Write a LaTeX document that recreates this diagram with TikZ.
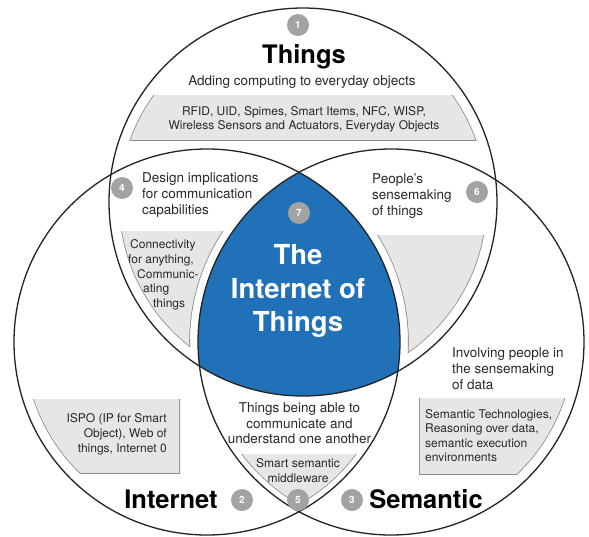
\documentclass[tikz,border=0pt]{standalone}
\usepackage{fontspec}
\setmainfont{TeX Gyre Heros}
\definecolor{iotblue}{RGB}{33,113,185}
\definecolor{badgec}{RGB}{163,163,163}
\definecolor{boxfill}{RGB}{230,230,230}
\definecolor{boxline}{RGB}{140,140,140}
\definecolor{txtc}{RGB}{40,40,40}
\definecolor{ringc}{RGB}{35,35,35}
\begin{document}
\begin{tikzpicture}[x=1pt,y=-1pt,
  ring/.style={draw=ringc,line width=1.3pt},
  txt/.style={font=\fontsize{13.5}{16}\selectfont,text=txtc,inner sep=0pt},
  smalltxt/.style={font=\fontsize{12}{14}\selectfont,text=txtc,inner sep=0pt},
  bigtitle/.style={font=\fontsize{25.5}{28}\selectfont\bfseries,text=black,inner sep=0pt},
  iottxt/.style={font=\fontsize{27.5}{30}\selectfont\bfseries,text=white,inner sep=0pt},
  badge/.style={circle,fill=badgec,text=white,minimum size=22pt,inner sep=0pt,font=\fontsize{10}{10}\selectfont\bfseries}]
\useasboundingbox (0,0) rectangle (589,536);
\fill[white] (0,0) rectangle (589,536);
\coordinate (T) at (303,202);
\coordinate (L) at (207,342);
\coordinate (R) at (391,342);
% blue centre
\begin{scope}
  \clip (T) circle (194);
  \clip (L) circle (193);
  \fill[iotblue] (R) circle (193);
\end{scope}
% Things box
\begin{scope}
  \clip (0,95) rectangle (600,140);
  \clip (T) circle (184);
  \fill[boxline] (0,0) rectangle (589,536);
  \clip (0,95.8) rectangle (600,139.2);
  \clip (T) circle (183.2);
  \fill[boxfill] (0,0) rectangle (589,536);
\end{scope}
% region 4 box
\begin{scope}[even odd rule]
  \clip (0,231) rectangle (300,420);
  \clip (T) circle (184);
  \clip (-20,-20) rectangle (620,560) (R) circle (201);
  \fill[boxline] (0,0) rectangle (589,536);
  \clip (0,231.8) rectangle (300,420);
  \clip (T) circle (183.2);
  \clip (-20,-20) rectangle (620,560) (R) circle (201.8);
  \fill[boxfill] (0,0) rectangle (589,536);
\end{scope}
% region 6 box
\begin{scope}[even odd rule]
  \clip (300,235) rectangle (600,420);
  \clip (T) circle (184);
  \clip (-20,-20) rectangle (620,560) (L) circle (201);
  \fill[boxline] (0,0) rectangle (589,536);
  \clip (300,235.8) rectangle (600,420);
  \clip (T) circle (183.2);
  \clip (-20,-20) rectangle (620,560) (L) circle (201.8);
  \fill[boxfill] (0,0) rectangle (589,536);
\end{scope}
% region 2 box
\begin{scope}
  \clip (0,399) rectangle (180,473);
  \clip (L) circle (183);
  \fill[boxline] (0,0) rectangle (589,536);
  \clip (0,399.8) rectangle (179.2,472.2);
  \clip (L) circle (182.2);
  \fill[boxfill] (0,0) rectangle (589,536);
\end{scope}
% region 3 box
\begin{scope}
  \clip (419,398) rectangle (600,474);
  \clip (R) circle (183);
  \fill[boxline] (0,0) rectangle (589,536);
  \clip (419.8,398.8) rectangle (600,473.2);
  \clip (R) circle (182.2);
  \fill[boxfill] (0,0) rectangle (589,536);
\end{scope}
% region 5 box
\begin{scope}
  \clip (0,454) rectangle (600,536);
  \clip (L) circle (187);
  \clip (R) circle (187);
  \fill[boxline] (0,0) rectangle (589,536);
  \clip (0,454.8) rectangle (600,536);
  \clip (L) circle (186.2);
  \clip (R) circle (186.2);
  \fill[boxfill] (0,0) rectangle (589,536);
\end{scope}
% circles
\draw[ring] (T) circle (194);
\draw[ring] (L) circle (193);
\draw[ring] (R) circle (193);
% badges
\node[badge] (b1) at (298,25) {1};
\node[badge] (b4) at (122,188) {4};
\node[badge] (b6) at (477,192) {6};
\node[badge] (b7) at (299,213) {7};
\node[badge] (b2) at (242,500) {2};
\node[badge] (b5) at (298,500) {5};
\node[badge] (b3) at (352,500) {3};
% titles
\node[bigtitle,anchor=base] (tthings) at (304,63) {Things};
\node[bigtitle,anchor=base] (tinternet) at (171,508) {Internet};
\node[bigtitle,anchor=base] (tsemantic) at (426,508) {Semantic};
% IoT
\node[iottxt,anchor=base] (iot1) at (298,264) {The};
\node[iottxt,anchor=base] (iot2) at (298,298) {Internet of};
\node[iottxt,anchor=base] (iot3) at (298,331) {Things};
% Things texts
\node[txt,anchor=base] (add) at (302,85) {Adding computing to everyday objects};
\node[smalltxt,anchor=base] (rfid1) at (304,115) {RFID, UID, Spimes, Smart Items, NFC, WISP,};
\node[smalltxt,anchor=base] (rfid2) at (304,129) {Wireless Sensors and Actuators, Everyday Objects};
% region 4
\node[txt,anchor=base west] (d1) at (142,182) {Design implications};
\node[txt,anchor=base west] (d2) at (142,198) {for communication};
\node[txt,anchor=base west] (d3) at (142,214) {capabilities};
\node[smalltxt,anchor=base west] (c1) at (130,248) {Connectivity};
\node[smalltxt,anchor=base west] (c2) at (128,263) {for anything,};
\node[smalltxt,anchor=base west] (c3) at (137,278) {Communic-};
\node[smalltxt,anchor=base west] (c4) at (143,292) {ating};
\node[smalltxt,anchor=base west] (c5) at (153,307) {things};
% region 6
\node[txt,anchor=base west] (p1) at (372,183) {People's};
\node[txt,anchor=base west] (p2) at (372,199) {sensemaking};
\node[txt,anchor=base west] (p3) at (372,215) {of things};
% region 3
\node[txt,anchor=base west] (i1) at (452,357) {Involving people in};
\node[txt,anchor=base west] (i2) at (452,373) {the sensemaking};
\node[txt,anchor=base west] (i3) at (452,389) {of data};
\node[smalltxt,anchor=base west] (s1) at (425,418) {Semantic Technologies,};
\node[smalltxt,anchor=base west] (s2) at (425,432.5) {Reasoning over data,};
\node[smalltxt,anchor=base west] (s3) at (425,447) {semantic execution};
\node[smalltxt,anchor=base west] (s4) at (425,461) {environments};
% region 2
\node[smalltxt,anchor=base east] (is1) at (167,422) {ISPO (IP for Smart};
\node[smalltxt,anchor=base east] (is2) at (167,437) {Object), Web of};
\node[smalltxt,anchor=base east] (is3) at (167,452) {things, Internet 0};
% region 5
\node[txt,anchor=base] (u1) at (299.5,412) {Things being able to};
\node[txt,anchor=base] (u2) at (299.5,428) {communicate and};
\node[txt,anchor=base] (u3) at (299.5,443.5) {understand one another};
\node[smalltxt,anchor=base] (m1) at (298,467.5) {Smart semantic};
\node[smalltxt,anchor=base] (m2) at (298,482) {middleware};
\end{tikzpicture}
\end{document}
